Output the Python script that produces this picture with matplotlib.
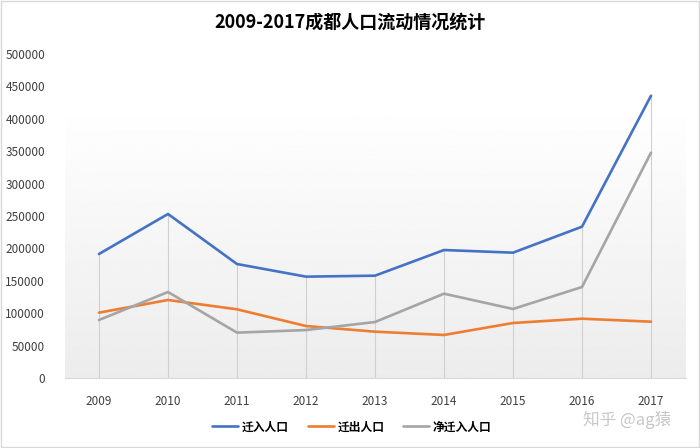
import numpy as np
import matplotlib.pyplot as plt
from matplotlib.patches import Rectangle

plt.rcParams['font.family'] = ['Noto Sans CJK SC', 'DejaVu Sans']

years = ['2009', '2010', '2011', '2012', '2013', '2014', '2015', '2016', '2017']
qianru = [191400, 253100, 175900, 156400, 157900, 197500, 193400, 233500, 435600]
qianchu = [100800, 120400, 106000, 80200, 71500, 66400, 84900, 91500, 86900]
jingqianru = [89500, 132700, 70000, 74000, 86400, 130100, 106500, 140400, 347700]
names = ['迁入人口', '迁出人口', '净迁入人口']
colors = ['#4472c4', '#ed7d31', '#a5a5a5']

fig = plt.figure(figsize=(7, 4.48), dpi=100)
ax = fig.add_axes([64.5 / 700, 1 - 378 / 448, 621 / 700, 324 / 448])

x = np.arange(len(years))
ax.set_xlim(-0.5, len(years) - 0.5)
ax.set_ylim(0, 500000)

# gradient background
grad = np.linspace(0, 1, 256).reshape(-1, 1)
grad = np.clip((grad - 0.15) / 0.85, 0, 1)
ax.imshow(1 - grad * 0.075, cmap='gray', vmin=0, vmax=1, aspect='auto',
          extent=[-0.5, len(years) - 0.5, 0, 500000], origin='upper', zorder=0)

# drop lines up to highest series
tops = np.max([qianru, qianchu, jingqianru], axis=0)
ax.vlines(x, 0, tops, color='#d0d0d0', lw=0.8, zorder=1)

for vals, name, c in zip([qianru, qianchu, jingqianru], names, colors):
    ax.plot(x, vals, color=c, lw=1.9, label=name, zorder=3, solid_capstyle='round')

for s in ['top', 'right', 'left']:
    ax.spines[s].set_visible(False)
ax.spines['bottom'].set_color('#d9d9d9')
ax.set_xticks(x)
ax.set_xticklabels(years)
ax.set_yticks(np.arange(0, 500001, 50000))
ax.tick_params(length=0, labelsize=8.5, colors='#404040', pad=12)
ax.tick_params(axis='y', pad=14)

fig.text(0.5, 1 - 22 / 448, '2009-2017成都人口流动情况统计', ha='center', va='center',
         fontsize=13, fontweight='bold', color='#000000')

leg = fig.legend(loc='center', bbox_to_anchor=(352 / 700, 1 - 427 / 448), ncol=3,
                 frameon=False, fontsize=8.5, handlelength=2.2, columnspacing=1.6,
                 handletextpad=0.3)
for t in leg.get_texts():
    t.set_fontweight('bold')

fig.text(627 / 700, 1 - 420 / 448, '知乎 @ag猿', ha='center', va='center',
         fontsize=12, color='#c8c8c8')

fig.patches.append(Rectangle((0.002, 0.002), 0.996, 0.996, transform=fig.transFigure,
                             fill=False, edgecolor='#d9d9d9', lw=1))

fig.savefig('out.png', dpi=100)
